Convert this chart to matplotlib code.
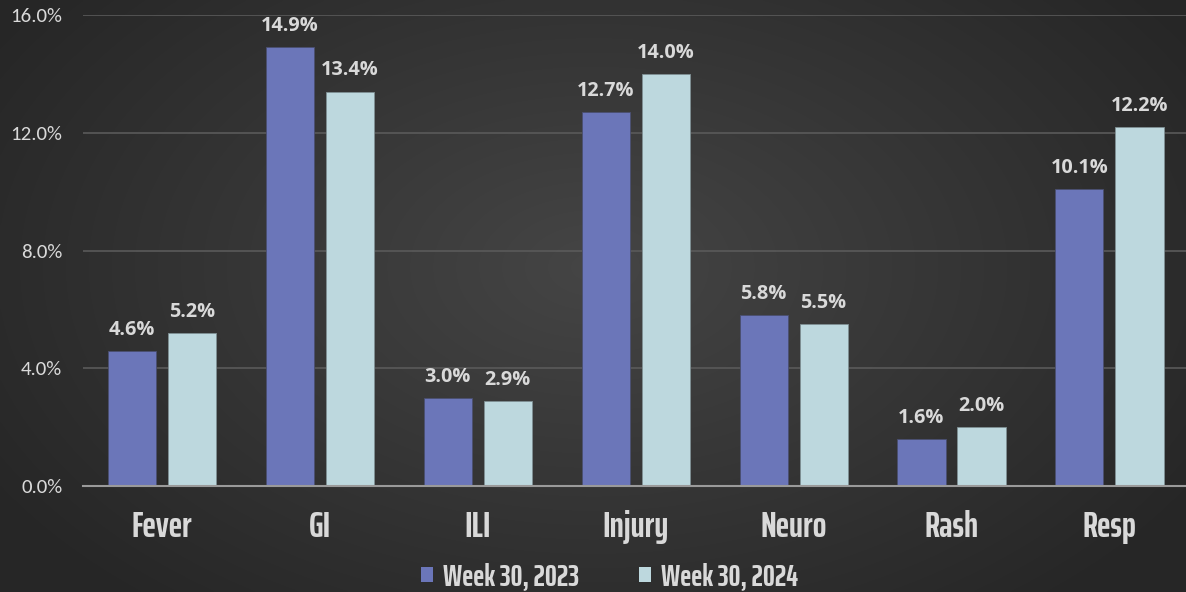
import numpy as np
import matplotlib
matplotlib.use("Agg")
import matplotlib.pyplot as plt
from matplotlib.patches import Patch

categories = ["Fever", "GI", "ILI", "Injury", "Neuro", "Rash", "Resp"]
series_names = ["Week 30, 2023", "Week 30, 2024"]
week30_2023 = [4.6, 14.9, 3.0, 12.7, 5.8, 1.6, 10.1]
week30_2024 = [5.2, 13.4, 2.9, 14.0, 5.5, 2.0, 12.2]
yticks = [0, 4, 8, 12, 16]

c1 = "#6b76b9"
c2 = "#bdd8de"
txt = "#d9d9d9"
cond = ["Saira ExtraCondensed", "Barlow Condensed", "DejaVu Sans"]

fig = plt.figure(figsize=(11.86, 5.92), dpi=100)

# radial gradient background
bg = fig.add_axes([0, 0, 1, 1])
h, w = 296, 593
yy, xx = np.mgrid[0:h, 0:w]
cx, cy = w * 0.5, h * 0.45
r = np.sqrt(((xx - cx) / (w * 0.6)) ** 2 + ((yy - cy) / (h * 0.75)) ** 2)
r = np.clip(r, 0, 1)
inner = np.array([0x45, 0x45, 0x45]) / 255
outer = np.array([0x26, 0x26, 0x26]) / 255
img = inner[None, None, :] * (1 - r[..., None]) + outer[None, None, :] * r[..., None]
bg.imshow(img, aspect="auto", extent=[0, 1, 0, 1], interpolation="bilinear")
bg.set_axis_off()

ax = fig.add_axes([0.070, 0.179, 0.932, 0.7956])
ax.set_facecolor("none")
x = np.arange(len(categories))
bw = 0.305
off = 0.19
b1 = ax.bar(x - off, week30_2023, bw, color=c1, edgecolor="#4a4f70", linewidth=0.6, zorder=3)
b2 = ax.bar(x + off, week30_2024, bw, color=c2, edgecolor="#7f9094", linewidth=0.6, zorder=3)

for bars, vals in ((b1, week30_2023), (b2, week30_2024)):
    for rect, v in zip(bars, vals):
        ax.annotate(f"{v:.1f}%", (rect.get_x() + rect.get_width() / 2, v),
                    xytext=(0, 8), textcoords="offset points", ha="center", va="bottom",
                    color=txt, fontsize=14.3, fontweight="bold", family="Open Sans")

ax.set_xlim(-0.5, len(categories) - 0.5)
ax.set_ylim(0, 16)
ax.set_yticks(yticks)
ax.set_yticklabels([f"{v:.1f}%" for v in yticks], color=txt, fontsize=15, family="Carlito")
ax.set_xticks(x)
ax.set_xticklabels(categories, color=txt, fontsize=26, fontweight="bold", family=cond)
ax.tick_params(axis="both", length=0)
ax.tick_params(axis="y", pad=15)
ax.tick_params(axis="x", pad=17)
ax.grid(axis="y", color="#5a5a5a", linewidth=1.2, zorder=0)
for s in ("top", "right", "left"):
    ax.spines[s].set_visible(False)
ax.spines["bottom"].set_color("#9a9a9a")
ax.spines["bottom"].set_linewidth(1.5)
ax.spines["bottom"].set_zorder(4)

handles = [Patch(facecolor=c1), Patch(facecolor=c2)]
leg = fig.legend(handles, series_names, loc="center", bbox_to_anchor=(0.514, 0.026), ncol=2,
                 frameon=False, handlelength=0.4, handleheight=0.4, handletextpad=0.35,
                 columnspacing=2.0, prop={"family": cond, "weight": "bold", "size": 21.5})
for t in leg.get_texts():
    t.set_color(txt)

fig.savefig("out.png", dpi=100)
